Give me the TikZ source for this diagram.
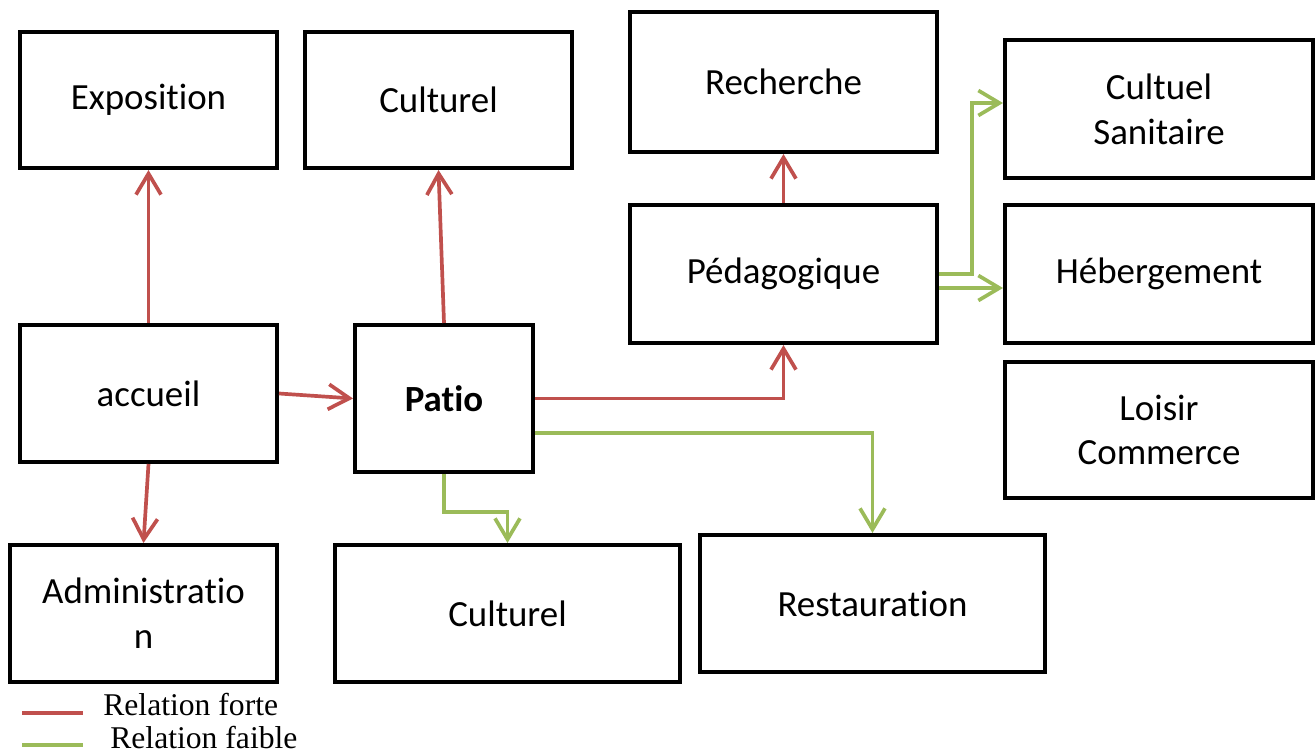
\documentclass[tikz,border=0pt]{standalone}
\usepackage{fontspec}
\setmainfont{Carlito}[Ligatures=NoCommon]
\newfontfamily\legendfont{Liberation Serif}
\usetikzlibrary{arrows.meta}

\definecolor{forte}{HTML}{C0504D}
\definecolor{faible}{HTML}{9BBB59}

\begin{document}
\begin{tikzpicture}[
			font=\fontsize{21}{25.5}\selectfont,
			space/.style={
					draw,
					line width=2.3pt,
					inner sep=0pt,
					align=center
				},
			fortearrow/.style={
			-{Straight Barb[length=0.42cm,width=0.5cm]},
			line width=2.1pt,
			forte
			},
			faiblearrow/.style={
			-{Straight Barb[length=0.42cm,width=0.5cm]},
			line width=2.1pt,
			faible
			}
			]

			\useasboundingbox (0,0) rectangle (26.32,-15.08);

			% ================= espaces =================
			\node[space, minimum width=5.14cm, minimum height=2.72cm] (expo) at (2.97,-2.00) {Exposition};
			\node[space, minimum width=5.34cm, minimum height=2.72cm] (cultA) at (8.77,-2.00) {Culturel};
			\node[space, minimum width=6.14cm, minimum height=2.80cm] (rech) at (15.67,-1.64) {Recherche};
			\node[space, minimum width=6.16cm, minimum height=2.76cm] (cultuel) at (23.18,-2.18) {Cultuel\\Sanitaire};
			\node[space, minimum width=6.14cm, minimum height=2.76cm] (pedago) at (15.67,-5.48) {Pédagogique};
			\node[space, minimum width=6.16cm, minimum height=2.76cm] (heberg) at (23.18,-5.48) {Hébergement};
			\node[space, minimum width=6.16cm, minimum height=2.72cm] (loisir) at (23.18,-8.60) {Loisir\\Commerce};
			\node[space, minimum width=5.14cm, minimum height=2.74cm] (accueil) at (2.97,-7.87) {accueil};
			\node[space, minimum width=3.56cm, minimum height=2.94cm] (patio) at (8.88,-7.97) {\textbf{Patio}};
			\node[space, minimum width=5.34cm, minimum height=2.74cm] (admin) at (2.87,-12.27) {Administratio\\n};
			\node[space, minimum width=6.90cm, minimum height=2.74cm] (cultB) at (10.15,-12.27) {Culturel};
			\node[space, minimum width=6.90cm, minimum height=2.74cm] (resto) at (17.45,-12.07) {Restauration};

			% ================= relations fortes =================
			\draw[fortearrow] (accueil.north) -- (expo.south);
			\draw[fortearrow] (accueil.south) -- (admin.north);
			\draw[fortearrow] (accueil.east) -- (patio.west);
			\draw[fortearrow] (patio.north) -- (cultA.south);
			\draw[fortearrow] (patio.east) -| (pedago.south);
			\draw[fortearrow] (pedago.north) -- (rech.south);

			% ================= relations faibles =================
			\draw[faiblearrow]
			(pedago.east)
			-- ++(0.66,0)
			|- ([yshift=0.12cm]cultuel.west);
			\draw[faiblearrow] ([yshift=-0.28cm]pedago.east) -- ([yshift=-0.28cm]heberg.west);
			\draw[faiblearrow] ([yshift=-0.69cm]patio.east) -| (resto.north);
			\draw[faiblearrow]
			(patio.south)
			-- ++(0,-0.76)
			-| (cultB.north);

			% ================= legende =================
			\draw[forte, line width=2.1pt] (0.44,-14.26) -- (1.66,-14.26);
			\draw[faible, line width=2.1pt] (0.44,-14.90) -- (1.66,-14.90);
			\node[anchor=west, inner sep=0pt, font=\legendfont\fontsize{18}{20}\selectfont] (lforte) at (2.06,-14.10) {Relation forte};
			\node[anchor=west, inner sep=0pt, font=\legendfont\fontsize{18}{20}\selectfont] (lfaible) at (2.20,-14.76) {Relation faible};

		\end{tikzpicture}
\end{document}
